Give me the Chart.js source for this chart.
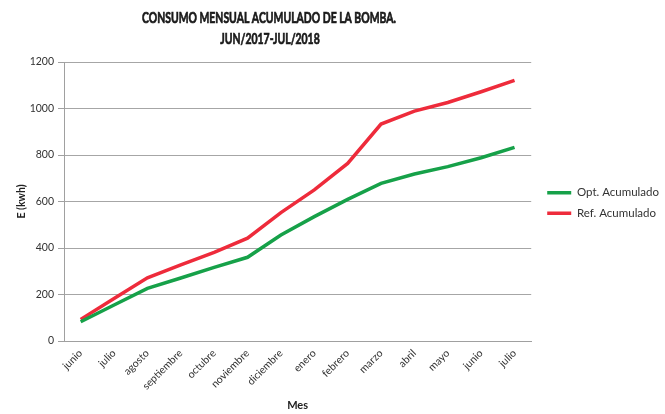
<!DOCTYPE html>
<html>
<head>
<meta charset="utf-8">
<script src="https://cdn.jsdelivr.net/npm/chart.js@4"></script>
<style>
html,body{margin:0;padding:0;background:#fff;}
#wrap{width:665px;height:414px;position:relative;}
</style>
</head>
<body>
<div id="wrap"><canvas id="c" width="665" height="414"></canvas></div>
<script>
const categories = ['junio','julio','agosto','septiembre','octubre','noviembre','diciembre','enero','febrero','marzo','abril','mayo','junio','julio'];
const optAcumulado = [83, 155, 226, 271, 317, 360, 456, 535, 609, 678, 718, 750, 788, 833];
const refAcumulado = [93, 183, 272, 327, 381, 442, 552, 650, 764, 933, 989, 1026, 1072, 1121];
const yTicks = [0, 200, 400, 600, 800, 1000, 1200];
const titleLines = ['CONSUMO MENSUAL ACUMULADO DE LA BOMBA.', 'JUN/2017-JUL/2018'];

const FONT = 'Lato, "Open Sans", "Liberation Sans", sans-serif';

const titlePlugin = {
  id: 'customTitle',
  afterDraw(chart) {
    const ctx = chart.ctx;
    ctx.save();
    ctx.fillStyle = '#1a1a1a';
    ctx.strokeStyle = '#1a1a1a';
    ctx.lineWidth = 0.7;
    ctx.textAlign = 'center';
    ctx.textBaseline = 'middle';
    ctx.font = 'bold 15px ' + FONT;
    const w0 = ctx.measureText(titleLines[0]).width;
    const sx = 254 / w0;
    const rows = [[titleLines[0], 269, 18], [titleLines[1], 270, 39]];
    rows.forEach(([t, cx, cy]) => {
      ctx.save();
      ctx.translate(cx, cy);
      ctx.scale(sx, 1);
      ctx.fillText(t, 0, 0);
      ctx.strokeText(t, 0, 0);
      ctx.restore();
    });
    ctx.restore();
  }
};

const legendShift = {
  id: 'legendShift',
  afterLayout(chart) {
    const lg = chart.legend;
    if (!lg) return;
    const dx = 7;
    const targetCenter = 203;
    const dy = targetCenter - (lg.top + lg.bottom) / 2;
    lg.left += dx; lg.right += dx;
    lg.top += dy; lg.bottom += dy;
  }
};

new Chart(document.getElementById('c'), {
  type: 'line',
  data: {
    labels: categories,
    datasets: [
      { label: 'Opt. Acumulado', data: optAcumulado, borderColor: '#16A149', backgroundColor: '#16A149', borderWidth: 3.5, pointRadius: 0, tension: 0, fill: false },
      { label: 'Ref. Acumulado', data: refAcumulado, borderColor: '#EE2B3B', backgroundColor: '#EE2B3B', borderWidth: 3.5, pointRadius: 0, tension: 0, fill: false }
    ]
  },
  options: {
    responsive: false,
    animation: false,
    devicePixelRatio: 1,
    layout: { padding: { top: 62, left: 0, right: 3, bottom: 0 } },
    plugins: {
      title: { display: false },
      tooltip: { enabled: false },
      legend: {
        position: 'right',
        align: 'center',
        labels: {
          usePointStyle: true,
          pointStyle: 'line',
          pointStyleWidth: 24,
          boxWidth: 21,
          boxHeight: 10,
          padding: 9,
          color: '#333',
          font: { family: FONT, size: 11.5 }
        }
      }
    },
    scales: {
      x: {
        offset: true,
        grid: { display: false, drawTicks: false },
        border: { display: true, color: '#a0a0a0', width: 1 },
        ticks: {
          minRotation: 45, maxRotation: 45, autoSkip: false,
          padding: 6,
          color: '#333',
          font: { family: FONT, size: 10.5 }
        },
        title: { display: true, text: 'Mes', color: '#222', font: { family: FONT, size: 11, weight: 'bold' }, padding: { top: 0, bottom: 2 } },
        afterFit(scale) { scale.height = 73; }
      },
      y: {
        min: 0, max: 1200,
        afterBuildTicks(scale) { scale.ticks = yTicks.map(v => ({ value: v })); },
        grid: { color: '#a6a6a6', lineWidth: 1, drawTicks: true, tickLength: 6, tickColor: '#a0a0a0' },
        border: { display: true, color: '#a0a0a0', width: 1 },
        ticks: { color: '#333', padding: 4, font: { family: FONT, size: 10.5 }, callback: (v) => String(v) },
        title: { display: true, text: 'E (kwh)', color: '#222', font: { family: FONT, size: 10.5, weight: 'bold' }, padding: { top: 15, bottom: 0 } },
        afterFit(scale) { scale.width = 64; }
      }
    }
  },
  plugins: [titlePlugin, legendShift]
});
</script>
</body>
</html>
